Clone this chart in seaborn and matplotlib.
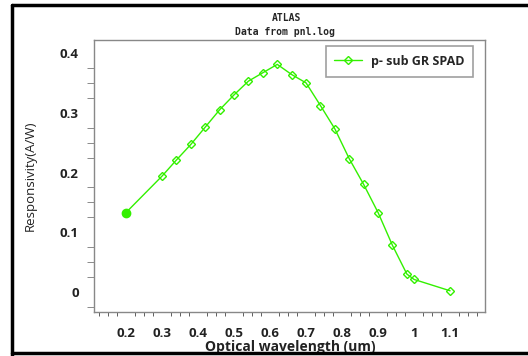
import matplotlib
matplotlib.use("Agg")
import matplotlib.pyplot as plt
import matplotlib.lines as mlines
from matplotlib.ticker import MultipleLocator
import pandas as pd
import seaborn as sns

# ─── Data ────────────────────────────────────────────────────────────────────
wavelength = [0.2, 0.3, 0.34, 0.38, 0.42, 0.46, 0.5, 0.54, 0.58, 0.62, 0.66,
              0.7, 0.74, 0.78, 0.82, 0.86, 0.9, 0.94, 0.98, 1.0, 1.1]
responsivity = [0.133, 0.194, 0.221, 0.247, 0.276, 0.305, 0.330, 0.353, 0.367,
                0.381, 0.364, 0.350, 0.312, 0.273, 0.223, 0.180, 0.133, 0.078,
                0.030, 0.021, 0.002]
series_name = "p- sub GR SPAD"
x_ticks = [0.2, 0.3, 0.4, 0.5, 0.6, 0.7, 0.8, 0.9, 1.0, 1.1]
x_tick_labels = ["0.2", "0.3", "0.4", "0.5", "0.6", "0.7", "0.8", "0.9", "1", "1.1"]
y_ticks = [0, 0.1, 0.2, 0.3, 0.4]
y_tick_labels = ["0", "0.1", "0.2", "0.3", "0.4"]

df = pd.DataFrame({"wavelength": wavelength, "responsivity": responsivity})

GREEN = "#33f000"

sns.set_style("white")
plt.rcParams["font.family"] = ["Open Sans", "DejaVu Sans"]

fig = plt.figure(figsize=(5.28, 3.56), dpi=100)
ax = fig.add_axes([94 / 528, 1 - 312 / 356, (485 - 94) / 528, (312 - 40) / 356])

sns.lineplot(data=df, x="wavelength", y="responsivity", ax=ax,
             color=GREEN, linewidth=1.0, marker="D", markersize=4.5,
             markerfacecolor="none", markeredgecolor=GREEN, markeredgewidth=1.0,
             label=series_name)
# filled first point
ax.plot(wavelength[0], responsivity[0], "o", color=GREEN, markersize=6)

ax.set_xlim(0.111, 1.197)
ax.set_ylim(-0.0335, 0.4218)

ax.set_xticks(x_ticks)
ax.set_xticklabels(x_tick_labels)
ax.set_yticks(y_ticks)
ax.set_yticklabels(y_tick_labels)
ax.xaxis.set_minor_locator(MultipleLocator(0.025))
ax.yaxis.set_minor_locator(MultipleLocator(0.025))

ax.tick_params(axis="both", which="major", direction="out", color="#444444",
               labelsize=9.5, width=1)
ax.tick_params(axis="x", which="major", length=6, pad=5)
ax.tick_params(axis="y", which="major", length=8, pad=3)
ax.tick_params(axis="x", which="minor", direction="out", length=3, color="#444444",
               bottom=True)
ax.tick_params(axis="y", which="minor", direction="out", length=5, color="#777777",
               left=True)
for lab in ax.get_xticklabels() + ax.get_yticklabels():
    lab.set_fontweight("bold")
    lab.set_color("#222222")

for s in ax.spines.values():
    s.set_color("#888888")
    s.set_linewidth(1.0)

# the reference draws the x label partly over the tick labels
ax.set_xlabel("Optical wavelength (um)", fontsize=10, fontweight="bold",
              color="#222222")
ax.xaxis.set_label_coords((290 - 94) / 391, -(347 - 312) / 272)
ax.xaxis.label.set_va("center")
ax.set_ylabel("Responsivity(A/W)", fontsize=9.5, color="#222222")
ax.yaxis.set_label_coords(-(94 - 30) / 391, 0.5)
ax.yaxis.label.set_va("center")

# titles
fig.text(287 / 528, 1 - 18 / 356, "ATLAS", ha="center", va="center",
         fontsize=7, fontweight="bold", family="DejaVu Sans Mono")
fig.text(285 / 528, 1 - 32 / 356, "Data from pnl.log", ha="center", va="center",
         fontsize=7, fontweight="bold", family="DejaVu Sans Mono")

leg = ax.legend(loc="upper right", bbox_to_anchor=((473 - 94) / 391, 1 - 6 / 272),
                borderaxespad=0, frameon=True, fancybox=False,
                edgecolor="#888888", handlelength=2.2, borderpad=0.7,
                handletextpad=0.7, prop={"weight": "bold", "size": 9})
leg.get_frame().set_linewidth(1.2)

# outer black frame lines
for (x0, y0, x1, y1) in [(12, 5, 528, 5), (12, 5, 12, 356), (12, 353, 528, 353)]:
    fig.add_artist(mlines.Line2D([x0 / 528, x1 / 528], [1 - y0 / 356, 1 - y1 / 356],
                                 color="black", linewidth=2.5,
                                 transform=fig.transFigure))

fig.savefig("out.png", dpi=100)
